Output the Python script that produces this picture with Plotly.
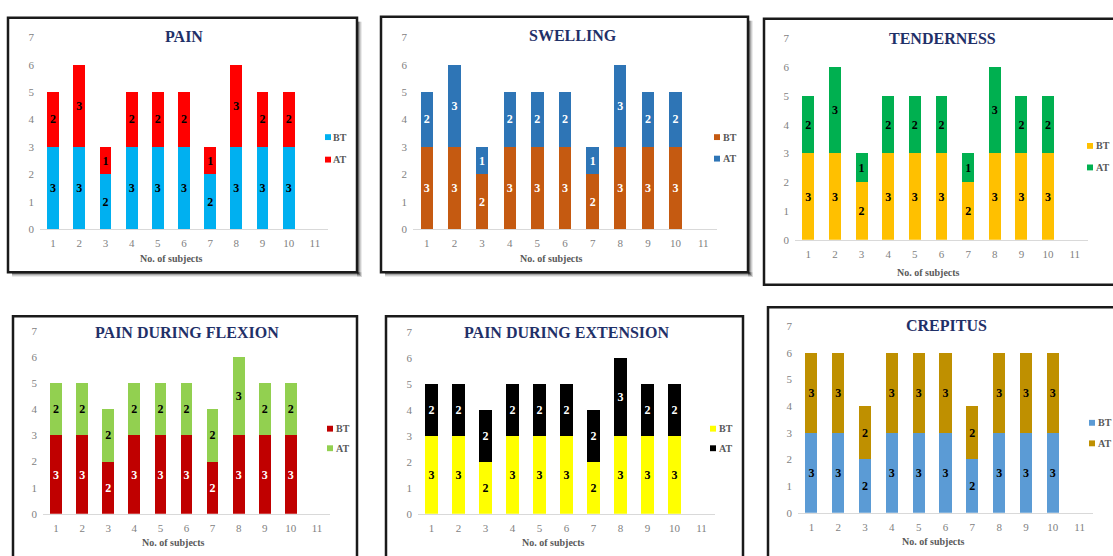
import plotly.graph_objects as go

W, H = 1113, 556

# Subjects on the x axis (11 is shown as an empty slot)
subjects = [1, 2, 3, 4, 5, 6, 7, 8, 9, 10]
axis_ticks = [1, 2, 3, 4, 5, 6, 7, 8, 9, 10, 11]

# Scores before (BT) and after (AT) treatment
pain_bt = [3, 3, 2, 3, 3, 3, 2, 3, 3, 3]
pain_at = [2, 3, 1, 2, 2, 2, 1, 3, 2, 2]
swelling_bt = [3, 3, 2, 3, 3, 3, 2, 3, 3, 3]
swelling_at = [2, 3, 1, 2, 2, 2, 1, 3, 2, 2]
tenderness_bt = [3, 3, 2, 3, 3, 3, 2, 3, 3, 3]
tenderness_at = [2, 3, 1, 2, 2, 2, 1, 3, 2, 2]
flexion_bt = [3, 3, 2, 3, 3, 3, 2, 3, 3, 3]
flexion_at = [2, 2, 2, 2, 2, 2, 2, 3, 2, 2]
extension_bt = [3, 3, 2, 3, 3, 3, 2, 3, 3, 3]
extension_at = [2, 2, 2, 2, 2, 2, 2, 3, 2, 2]
crepitus_bt = [3, 3, 2, 3, 3, 3, 2, 3, 3, 3]
crepitus_at = [3, 3, 2, 3, 3, 3, 2, 3, 3, 3]

titles = ["PAIN", "SWELLING", "TENDERNESS",
          "PAIN DURING FLEXION", "PAIN DURING EXTENSION", "CREPITUS"]
series_names = ["BT", "AT"]

SERIF = "Liberation Serif, Times New Roman, serif"


def px(x):
    return x / W


def py(y):
    return 1 - y / H


# Panel layout in pixels: plot area, frame, title, axis title, legend swatch (x, y of BT, y of AT)
panels = [
    dict(bt=pain_bt, at=pain_at, col=("#00B0F0", "#FF0000"), txt=("#000000", "#000000"),
         plot=(40, 328, 32, 228), frame=(8, 357, 12, 272), shadow=True,
         title=(184, 31), xt=(171, 258), leg=(328, 134, 157)),
    dict(bt=swelling_bt, at=swelling_at, col=("#C55A11", "#2E75B6"), txt=("#FFFFFF", "#FFFFFF"),
         plot=(413, 717, 32, 228), frame=(381, 748, 11, 272), shadow=True,
         title=(573, 30), xt=(551, 258), leg=(717, 134, 156)),
    dict(bt=tenderness_bt, at=tenderness_at, col=("#FFC000", "#00B050"), txt=("#000000", "#000000"),
         plot=(795, 1088, 33, 239), frame=(764, 1125, 13, 285), shadow=False,
         title=(942, 33), xt=(928, 272), leg=(1090, 143, 165)),
    dict(bt=flexion_bt, at=flexion_at, col=("#C00000", "#92D050"), txt=("#FFFFFF", "#000000"),
         plot=(43, 330, 332, 519), frame=(13, 357, 317, 570), shadow=False,
         title=(187, 334), xt=(173, 548), leg=(330, 432, 452)),
    dict(bt=extension_bt, at=extension_at, col=("#FFFF00", "#000000"), txt=("#000000", "#FFFFFF"),
         plot=(418, 715, 333, 519), frame=(386, 743, 317, 570), shadow=False,
         title=(567, 334), xt=(553, 548), leg=(713, 432, 452)),
    dict(bt=crepitus_bt, at=crepitus_at, col=("#5B9BD5", "#BF9000"), txt=("#000000", "#000000"),
         plot=(798, 1093, 327, 518), frame=(768, 1125, 308, 570), shadow=False,
         title=(946, 327), xt=(933, 547), leg=(1092, 426, 447)),
]

fig = go.Figure()
shapes = []
annotations = []
layout_axes = {}

for i, p in enumerate(panels):
    n = i + 1
    xa = "x" if n == 1 else f"x{n}"
    ya = "y" if n == 1 else f"y{n}"

    for k, vals in enumerate((p["bt"], p["at"])):
        fig.add_trace(go.Bar(
            x=subjects, y=vals, name=series_names[k],
            marker=dict(color=p["col"][k], line=dict(width=0)),
            width=0.45,
            text=vals, textposition="inside", insidetextanchor="middle",
            textangle=0, constraintext="none",
            textfont=dict(family=SERIF, size=12, color=p["txt"][k], weight="bold"),
            xaxis=xa, yaxis=ya, showlegend=False,
        ))

    x0, x1, y0, y1 = p["plot"]
    layout_axes["xaxis" if n == 1 else f"xaxis{n}"] = dict(
        domain=[px(x0), px(x1)], anchor=ya, range=[0.5, 11.5],
        tickvals=axis_ticks, ticktext=[str(t) for t in axis_ticks],
        showgrid=False, zeroline=False, showline=True, linecolor="#D9D9D9", linewidth=1,
        ticks="", ticklabelstandoff=4,
        tickfont=dict(family=SERIF, size=11, color="#7F7F7F"), fixedrange=True,
    )
    layout_axes["yaxis" if n == 1 else f"yaxis{n}"] = dict(
        domain=[py(y1), py(y0)], anchor=xa, range=[0, 7], dtick=1,
        showgrid=False, zeroline=False, showline=False, ticks="", ticklabelstandoff=5,
        tickfont=dict(family=SERIF, size=11, color="#7F7F7F"), fixedrange=True,
    )

    # legend: small colour swatch followed by the series name
    lx, ly_bt, ly_at = p["leg"]
    for k, ly in enumerate((ly_bt, ly_at)):
        shapes.append(dict(type="rect", xref="paper", yref="paper",
                           x0=px(lx - 3), x1=px(lx + 3), y0=py(ly + 3), y1=py(ly - 3),
                           fillcolor=p["col"][k], line=dict(width=0)))
        annotations.append(dict(text=series_names[k], x=px(lx + 3.5), y=py(ly), xref="paper", yref="paper",
                                showarrow=False, xanchor="left", yanchor="middle",
                                font=dict(family=SERIF, size=10, color="#595959", weight="bold")))

    fx0, fx1, fy0, fy1 = p["frame"]
    if p["shadow"]:
        for off, alpha in ((5, 0.08), (4, 0.12), (3, 0.18), (2, 0.25)):
            shapes.append(dict(type="rect", xref="paper", yref="paper",
                               x0=px(fx1), x1=px(fx1 + off), y0=py(fy1 + off), y1=py(fy0 + 4),
                               fillcolor=f"rgba(0,0,0,{alpha})", line=dict(width=0), layer="below"))
            shapes.append(dict(type="rect", xref="paper", yref="paper",
                               x0=px(fx0 + 4), x1=px(fx1 + off), y0=py(fy1 + off), y1=py(fy1),
                               fillcolor=f"rgba(0,0,0,{alpha})", line=dict(width=0), layer="below"))
    shapes.append(dict(type="rect", xref="paper", yref="paper",
                       x0=px(fx0), x1=px(fx1), y0=py(fy1), y1=py(fy0),
                       line=dict(color="#1A1A1A", width=2.5), fillcolor="rgba(0,0,0,0)"))

    tx, ty = p["title"]
    annotations.append(dict(text=titles[i], x=px(tx), y=py(ty), xref="paper", yref="paper",
                            showarrow=False, xanchor="center", yanchor="middle",
                            font=dict(family=SERIF, size=16, color="#1F3068", weight="bold")))
    ax, ay = p["xt"]
    annotations.append(dict(text="No. of subjects", x=px(ax), y=py(ay), xref="paper", yref="paper",
                            showarrow=False, xanchor="center", yanchor="middle",
                            font=dict(family=SERIF, size=10, color="#595959", weight="bold")))

fig.update_layout(
    width=W, height=H, margin=dict(l=0, r=0, t=0, b=0),
    paper_bgcolor="white", plot_bgcolor="white",
    barmode="stack", shapes=shapes, annotations=annotations, showlegend=False,
    **layout_axes,
)

fig.write_html("out.html")
